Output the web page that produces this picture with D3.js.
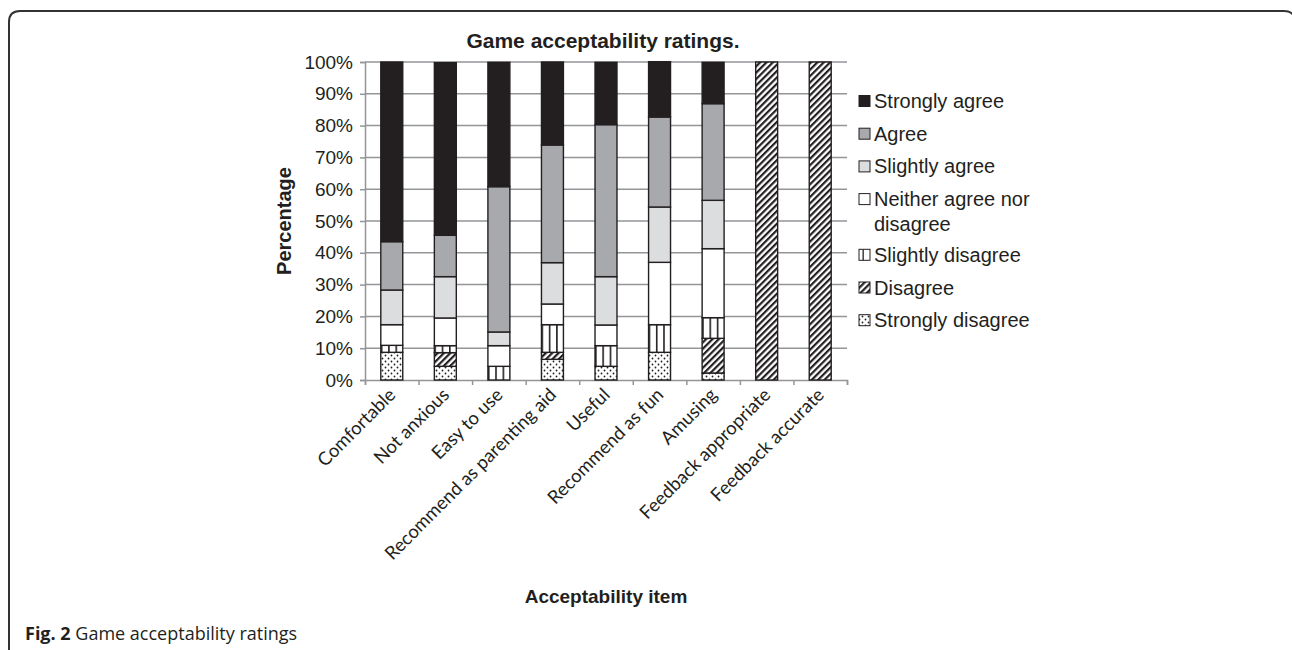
<!DOCTYPE html>
<html>
<head>
<meta charset="utf-8">
<script src="https://cdn.jsdelivr.net/npm/d3@7"></script>
<style>
  body { margin: 0; background: #fff; }
  svg { display: block; }
</style>
</head>
<body>
<div id="chart"></div>
<script>
var categories = ["Comfortable", "Not anxious", "Easy to use", "Recommend as parenting aid",
    "Useful", "Recommend as fun", "Amusing", "Feedback appropriate", "Feedback accurate"];

// stacked from bottom to top
var seriesNames = ["Strongly disagree", "Disagree", "Slightly disagree", "Neither agree nor disagree",
    "Slightly agree", "Agree", "Strongly agree"];

var stronglyDisagree = [8.7, 4.3, 0, 6.5, 4.3, 8.7, 2.2, 0, 0];
var disagree = [0, 4.3, 0, 2.2, 0, 0, 10.9, 100, 100];
var slightlyDisagree = [2.2, 2.2, 4.3, 8.7, 6.5, 8.7, 6.5, 0, 0];
var neither = [6.5, 8.7, 6.5, 6.5, 6.5, 19.6, 21.7, 0, 0];
var slightlyAgree = [10.9, 13.0, 4.3, 13.0, 15.2, 17.4, 15.2, 0, 0];
var agree = [15.2, 13.0, 45.7, 37.0, 47.8, 28.3, 30.4, 0, 0];
var stronglyAgree = [56.5, 54.3, 39.1, 26.1, 19.6, 17.4, 13.0, 0, 0];

var yTicks = [0, 10, 20, 30, 40, 50, 60, 70, 80, 90, 100];

var seriesValues = [stronglyDisagree, disagree, slightlyDisagree, neither, slightlyAgree, agree, stronglyAgree];

var svgWidth = 1292;
var svgHeight = 650;

var plot = { left: 365, right: 847, top: 62, bottom: 380 };

var svg = d3.select("#chart")
    .append("svg")
    .attr("width", svgWidth)
    .attr("height", svgHeight);

// patterns
var defs = svg.append("defs");

var dots = defs.append("pattern").attr("id", "dots")
    .attr("patternUnits", "userSpaceOnUse").attr("width", 6).attr("height", 6);
dots.append("rect").attr("width", 6).attr("height", 6).attr("fill", "#fff");
dots.append("circle").attr("cx", 1.5).attr("cy", 1.5).attr("r", 0.9).attr("fill", "#222");
dots.append("circle").attr("cx", 4.5).attr("cy", 4.5).attr("r", 0.9).attr("fill", "#222");

var diag = defs.append("pattern").attr("id", "diag")
    .attr("patternUnits", "userSpaceOnUse").attr("width", 4.5).attr("height", 4.5)
    .attr("patternTransform", "rotate(45)");
diag.append("rect").attr("width", 4.5).attr("height", 4.5).attr("fill", "#fff");
diag.append("rect").attr("width", 2.2).attr("height", 4.5).attr("fill", "#231f20");

var vert = defs.append("pattern").attr("id", "vert")
    .attr("patternUnits", "objectBoundingBox").attr("width", 1 / 3).attr("height", 1);
vert.append("rect").attr("width", 40).attr("height", 400).attr("fill", "#fff");
vert.append("rect").attr("x", 0).attr("width", 1.6).attr("height", 400).attr("fill", "#231f20");

// legend marker version: single line
var vertKey = defs.append("pattern").attr("id", "vertKey")
    .attr("patternUnits", "objectBoundingBox").attr("width", 1).attr("height", 1);
vertKey.append("rect").attr("width", 20).attr("height", 20).attr("fill", "#fff");
vertKey.append("rect").attr("x", 3.5).attr("width", 1.3).attr("height", 20).attr("fill", "#231f20");

var fills = ["url(#dots)", "url(#diag)", "url(#vert)", "#ffffff", "#dcddde", "#a7a9ac", "#231f20"];
var keyFills = ["url(#dots)", "url(#diag)", "url(#vertKey)", "#ffffff", "#dcddde", "#a7a9ac", "#231f20"];

// frame
svg.append("path")
    .attr("d", "M9,660 L9,22 Q9,11 20,11 L1284,11 Q1295,11 1295,22 L1295,660")
    .attr("fill", "none")
    .attr("stroke", "#333")
    .attr("stroke-width", 2);

var yScale = d3.scaleLinear().domain([0, 100]).range([plot.bottom, plot.top]);
var xBand = d3.scaleBand().domain(categories).range([plot.left, plot.right]).padding(0);
var xEdge = d3.scaleLinear().domain([0, categories.length]).range([plot.left, plot.right]);

// gridlines
svg.append("g").selectAll("line")
    .data(yTicks.filter(d => d > 0))
    .enter().append("line")
    .attr("x1", plot.left).attr("x2", plot.right)
    .attr("y1", d => yScale(d)).attr("y2", d => yScale(d))
    .attr("stroke", "#939598").attr("stroke-width", 1.5);

// y axis
var yAxis = d3.axisLeft(yScale).tickValues(yTicks).tickSize(5).tickPadding(7).tickFormat(d => d + "%");
var yg = svg.append("g").attr("transform", `translate(${plot.left},0)`).call(yAxis);
yg.select(".domain").attr("stroke", "#939598").attr("stroke-width", 1.5);
yg.selectAll(".tick line").attr("stroke", "#939598").attr("stroke-width", 1.5);
yg.selectAll("text").attr("font-family", "Liberation Sans, Arial, sans-serif")
    .attr("font-size", 19).attr("fill", "#231f20");

// x axis (ticks at category edges)
var xAxis = d3.axisBottom(xEdge).tickValues(d3.range(categories.length + 1)).tickSize(5).tickFormat("");
var xg = svg.append("g").attr("transform", `translate(0,${plot.bottom})`).call(xAxis);
xg.select(".domain").attr("stroke", "#939598").attr("stroke-width", 1.5);
xg.selectAll(".tick line").attr("stroke", "#939598").attr("stroke-width", 1.5);

// stacked bars
var table = categories.map((c, i) => {
    var row = { cat: c };
    seriesNames.forEach((s, j) => { row[s] = seriesValues[j][i]; });
    return row;
});
var stacked = d3.stack().keys(seriesNames)(table);
var barW = xBand.bandwidth() * 0.41;

svg.append("g").selectAll("g")
    .data(stacked)
    .enter().append("g")
    .attr("fill", (d, i) => fills[i])
    .selectAll("rect")
    .data(d => d.filter(p => p[1] - p[0] > 0))
    .enter().append("rect")
    .attr("x", d => xBand(d.data.cat) + (xBand.bandwidth() - barW) / 2)
    .attr("y", d => yScale(d[1]))
    .attr("width", barW)
    .attr("height", d => yScale(d[0]) - yScale(d[1]))
    .attr("stroke", "#231f20")
    .attr("stroke-width", 1.4);

// x labels
svg.append("g").selectAll("text")
    .data(categories)
    .enter().append("text")
    .text(d => d)
    .attr("transform", d => `translate(${xBand(d) + xBand.bandwidth() / 2 + 5},${plot.bottom + 16}) rotate(-45)`)
    .attr("text-anchor", "end")
    .attr("font-family", "Lato, sans-serif")
    .attr("font-size", 18.5)
    .attr("fill", "#231f20");

// titles
svg.append("text").text("Game acceptability ratings.")
    .attr("x", (plot.left + plot.right) / 2 - 3).attr("y", 48)
    .attr("text-anchor", "middle")
    .attr("font-family", "Liberation Sans, Arial, sans-serif")
    .attr("font-weight", "bold").attr("font-size", 21).attr("fill", "#231f20");

svg.append("text").text("Percentage")
    .attr("transform", `translate(291,${(plot.top + plot.bottom) / 2}) rotate(-90)`)
    .attr("text-anchor", "middle")
    .attr("font-family", "Liberation Sans, Arial, sans-serif")
    .attr("font-weight", "bold").attr("font-size", 20).attr("fill", "#231f20");

svg.append("text").text("Acceptability item")
    .attr("x", (plot.left + plot.right) / 2).attr("y", 603)
    .attr("text-anchor", "middle")
    .attr("font-family", "Liberation Sans, Arial, sans-serif")
    .attr("font-weight", "bold").attr("font-size", 19).attr("fill", "#231f20");

// legend (top to bottom: strongly agree first)
var legendOrder = d3.range(seriesNames.length).reverse();
var legend = svg.append("g");
legendOrder.forEach((si, i) => {
    var y = 101 + i * 32.7 + (i > 3 ? 23 : 0);
    legend.append("rect")
        .attr("x", 859).attr("y", y - 5.5)
        .attr("width", 11).attr("height", 11)
        .attr("fill", keyFills[si])
        .attr("stroke", "#231f20").attr("stroke-width", 1);
    var t = legend.append("text")
        .attr("x", 874).attr("y", y + 7)
        .attr("font-family", "Liberation Sans, Arial, sans-serif")
        .attr("font-size", 20).attr("fill", "#231f20");
    if (si === 3) {
        t.append("tspan").text("Neither agree nor");
        t.append("tspan").attr("x", 874).attr("dy", 25).text("disagree");
    } else {
        t.text(seriesNames[si]);
    }
});

// caption
var cap = svg.append("text").attr("x", 25).attr("y", 640)
    .attr("font-family", "Open Sans, sans-serif").attr("font-size", 18).attr("fill", "#231f20");
cap.append("tspan").attr("font-weight", "bold").text("Fig. 2");
cap.append("tspan").text(" Game acceptability ratings");
</script>
</body>
</html>
